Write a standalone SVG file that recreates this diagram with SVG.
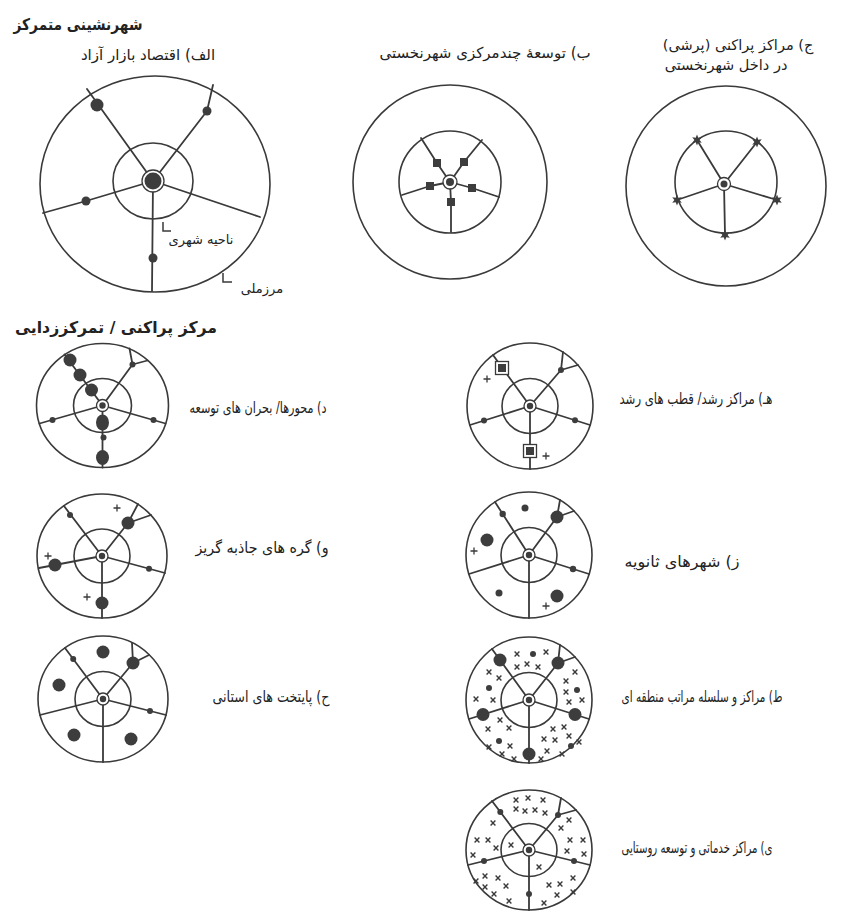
<svg xmlns="http://www.w3.org/2000/svg" width="861" height="914" viewBox="0 0 861 914">
<style>
.o{fill:none;stroke:#3a3a3a;stroke-width:1.6}
.s{fill:none;stroke:#3a3a3a;stroke-width:1.8;stroke-linejoin:round;stroke-linecap:round}
.d{fill:#3d3d3d}
.r{fill:#fff;stroke:#3a3a3a;stroke-width:1.3}
.t{font-family:"DejaVu Sans",sans-serif;fill:#222;direction:rtl;text-anchor:middle;font-size:14px}
.l{font-size:15.5px}
.h{font-weight:bold;font-size:16px}
.ld{fill:none;stroke:#3a3a3a;stroke-width:1.5}
</style>
<defs>
<polygon id="star" class="d" points="0,-5.5 1.3,-2.25 4.76,-2.75 2.6,0 4.76,2.75 1.3,2.25 0,5.5 -1.3,2.25 -4.76,2.75 -2.6,0 -4.76,-2.75 -1.3,-2.25"/>
<path id="xm" d="M-2.4,-2.4L2.4,2.4M2.4,-2.4L-2.4,2.4" stroke="#3a3a3a" stroke-width="1.4" fill="none"/>
<path id="pl" d="M-3.5,0H3.5M0,-3.5V3.5" stroke="#3a3a3a" stroke-width="1.3" fill="none"/>
<g id="sq2"><rect x="-6.5" y="-6.5" width="13" height="13" class="r"/><rect x="-4" y="-4" width="8" height="8" class="d"/></g>
<g id="ring"><circle r="6" class="r"/><circle r="3.2" class="d"/></g>
</defs>
<rect width="861" height="914" fill="#fff"/>

<g id="titles">
<text class="t h" x="78" y="30" textLength="129" lengthAdjust="spacingAndGlyphs">شهرنشینی متمرکز</text>
<text class="t h" x="116" y="333" textLength="202" lengthAdjust="spacingAndGlyphs">مرکز پراکنی / تمرکززدایی</text>
</g>

<g id="p-alef">
<text class="t" x="148" y="60" style="font-size:15px">الف) اقتصاد بازار آزاد</text>
<ellipse cx="155" cy="184" rx="115" ry="108" class="o"/>
<ellipse cx="153" cy="181" rx="40" ry="38" class="o"/>
<path class="s" d="M153,181L87,89M153,181L207,111L213,85M153,181L86,201L43,213M153,181L260,217M153,181L152,291"/>
<circle cx="97" cy="105" r="6.5" class="d"/>
<circle cx="207" cy="111" r="4.5" class="d"/>
<circle cx="86" cy="201" r="4.5" class="d"/>
<circle cx="153" cy="258" r="4.5" class="d"/>
<circle cx="153" cy="181" r="11" class="r"/>
<circle cx="153" cy="181" r="8.5" class="d"/>
<path class="ld" d="M163,222V231H171M223,273V282H232"/>
<text class="t" x="201" y="244" style="font-size:13px">ناحیه شهری</text>
<text class="t" x="262" y="293" style="font-size:13px">مرزملی</text>
</g>

<g id="p-be">
<text class="t" x="485" y="58" style="font-size:15px">ب) توسعهٔ چندمرکزی شهرنخستی</text>
<circle cx="450" cy="182" r="97" class="o"/>
<circle cx="450" cy="182" r="51" class="o"/>
<path class="s" d="M450,182L437,163L421,138M450,182L464,162L482,140M450,182L430,186L402,195M450,182L472,188L499,197M450,182L451,202L451,232"/>
<rect x="433" y="159" width="8" height="8" class="d"/>
<rect x="460" y="158" width="8" height="8" class="d"/>
<rect x="426" y="182" width="8" height="8" class="d"/>
<rect x="468" y="184" width="8" height="8" class="d"/>
<rect x="447" y="198" width="8" height="8" class="d"/>
<circle cx="450" cy="182" r="7" class="r"/>
<circle cx="450" cy="182" r="4" class="d"/>
</g>

<g id="p-jim">
<text class="t" x="738" y="50" style="font-size:14.5px">ج) مراکز پراکنی (پرشی)</text>
<text class="t" x="726" y="70" style="font-size:14.5px">در داخل شهرنخستی</text>
<circle cx="726" cy="186" r="100" class="o"/>
<circle cx="726" cy="182" r="51" class="o"/>
<path class="s" d="M724,184L697,140M724,184L757,142M724,184L677,200M724,184L777,200M724,184L725,235"/>
<use href="#star" x="697" y="140"/>
<use href="#star" x="757" y="142"/>
<use href="#star" x="677" y="200"/>
<use href="#star" x="777" y="200"/>
<use href="#star" x="725" y="235"/>
<circle cx="724" cy="184" r="6.5" class="r"/>
<circle cx="724" cy="184" r="3.5" class="d"/>
</g>

<g id="p-dal">
<text class="t l" x="258" y="413" textLength="137" lengthAdjust="spacingAndGlyphs">د) محورها/ بحران های توسعه</text>
<g transform="translate(102.5,405.5)">
<ellipse rx="66" ry="62" class="o"/>
<ellipse rx="29" ry="27" class="o"/>
<path class="s" d="M0,0L-38,-51M0,0L30,-41L27,-57M30,-41L45,-45M0,0L-63,18M0,0L63,18M0,0L0,62"/>
<circle cx="-32.5" cy="-45.5" r="6.5" class="d"/>
<circle cx="-22.5" cy="-30.5" r="6.5" class="d"/>
<circle cx="-11" cy="-15.5" r="6.5" class="d"/>
<circle cx="30" cy="-41" r="3" class="d"/>
<circle cx="-50" cy="14.5" r="3" class="d"/>
<circle cx="51" cy="14.5" r="3" class="d"/>
<circle cx="1" cy="32" r="3" class="d"/>
<ellipse cx="0" cy="17" rx="6.5" ry="8" class="d"/>
<ellipse cx="0" cy="52" rx="6.5" ry="7.5" class="d"/>
<use href="#ring"/>
</g>
</g>

<g id="p-he">
<text class="t l" x="696" y="404" textLength="153" lengthAdjust="spacingAndGlyphs">هـ) مراکز رشد/ قطب های رشد</text>
<g transform="translate(530,406)">
<circle r="63" class="o"/>
<ellipse rx="28" ry="27.5" class="o"/>
<path class="s" d="M0,0L-37,-51M0,0L31,-36L33,-54M31,-36L48,-41M0,0L-60,19M0,0L60,19M0,0L0,63"/>
<circle cx="31" cy="-36" r="3" class="d"/>
<circle cx="-46" cy="14.6" r="3" class="d"/>
<circle cx="45" cy="14.3" r="3" class="d"/>
<use href="#sq2" x="-28" y="-38"/>
<use href="#sq2" x="0" y="45"/>
<use href="#pl" x="-43" y="-27"/>
<use href="#pl" x="16" y="50"/>
<use href="#ring"/>
</g>
</g>

<g id="p-vav">
<text class="t l" x="262" y="553" textLength="133" lengthAdjust="spacingAndGlyphs">و) گره های جاذبه گریز</text>
<g transform="translate(102,556)">
<ellipse rx="65" ry="62" class="o"/>
<ellipse rx="28" ry="27" class="o"/>
<path class="s" d="M0,0L-38,-50M0,0L26,-33L36,-52M26,-33L49,-41M0,0L-63,12M0,0L63,17M0,0L0,62"/>
<circle cx="-32" cy="-41" r="3" class="d"/>
<circle cx="26" cy="-33" r="6.5" class="d"/>
<circle cx="-47" cy="9" r="6.5" class="d"/>
<circle cx="47" cy="12.7" r="3" class="d"/>
<circle cx="0" cy="47" r="6.5" class="d"/>
<use href="#pl" x="15" y="-48"/>
<use href="#pl" x="-54" y="0"/>
<use href="#pl" x="-15" y="41"/>
<use href="#ring"/>
</g>
</g>

<g id="p-ze">
<text class="t l" x="682" y="567" textLength="115" lengthAdjust="spacingAndGlyphs">ز) شهرهای ثانویه</text>
<g transform="translate(529,555)">
<circle r="63" class="o"/>
<ellipse rx="28" ry="27.5" class="o"/>
<path class="s" d="M0,0L-34,-53M0,0L28,-38L31,-55M28,-38L45,-44M0,0L-60,19M0,0L60,19M0,0L0,63"/>
<circle cx="-26.3" cy="-41" r="3.2" class="d"/>
<circle cx="28" cy="-38" r="6.5" class="d"/>
<circle cx="44" cy="14" r="3.2" class="d"/>
<circle cx="-4" cy="-47" r="3.5" class="d"/>
<circle cx="-42" cy="-15" r="6.5" class="d"/>
<circle cx="-30" cy="38" r="3.5" class="d"/>
<circle cx="28" cy="41" r="6.5" class="d"/>
<use href="#pl" x="-55" y="-4"/>
<use href="#pl" x="17" y="51"/>
<use href="#ring"/>
</g>
</g>

<g id="p-he2">
<text class="t l" x="271" y="702" textLength="117" lengthAdjust="spacingAndGlyphs">ح) پایتخت های استانی</text>
<g transform="translate(103,699)">
<ellipse rx="65" ry="63" class="o"/>
<ellipse rx="28" ry="27.5" class="o"/>
<path class="s" d="M0,0L-38,-51M0,0L30,-36L29,-56M30,-36L46,-44M0,0L-63,16M0,0L63,16M0,0L0,63"/>
<circle cx="-29.8" cy="-40" r="3" class="d"/>
<circle cx="30" cy="-36" r="6.5" class="d"/>
<circle cx="47" cy="12" r="3" class="d"/>
<circle cx="0" cy="-47" r="6.5" class="d"/>
<circle cx="-44" cy="-14" r="6.5" class="d"/>
<circle cx="-29" cy="36" r="6.5" class="d"/>
<circle cx="28" cy="40" r="6.5" class="d"/>
<use href="#ring"/>
</g>
</g>

<g id="p-ta">
<text class="t l" x="702" y="702" textLength="161" lengthAdjust="spacingAndGlyphs">ط) مراکز و سلسله مراتب منطقه ای</text>
<g transform="translate(529,700)">
<circle r="63" class="o"/>
<ellipse rx="28" ry="27.5" class="o"/>
<path class="s" d="M0,0L-37,-51M0,0L29,-37L31,-55M29,-37L46,-43M0,0L-60,19M0,0L60,19M0,0L0,63"/>
<circle cx="-29" cy="-40" r="6.5" class="d"/>
<circle cx="29" cy="-37" r="6.5" class="d"/>
<circle cx="-46" cy="14.5" r="6.5" class="d"/>
<circle cx="46" cy="14.5" r="6.5" class="d"/>
<circle cx="0" cy="54" r="6.5" class="d"/>
<circle cx="4" cy="-46" r="3" class="d"/>
<circle cx="-40" cy="-12" r="3" class="d"/>
<circle cx="48" cy="-10" r="3" class="d"/>
<circle cx="-30" cy="41" r="3" class="d"/>
<circle cx="42" cy="46" r="3" class="d"/>
<use href="#xm" x="-12" y="-46"/><use href="#xm" x="17" y="-48"/>
<use href="#xm" x="-12" y="-33"/><use href="#xm" x="-2" y="-36"/><use href="#xm" x="9" y="-33"/>
<use href="#xm" x="-40" y="-28"/><use href="#xm" x="-30" y="-22"/>
<use href="#xm" x="-53" y="-1"/><use href="#xm" x="-36" y="0"/>
<use href="#xm" x="46" y="-28"/><use href="#xm" x="37" y="-19"/><use href="#xm" x="37" y="-8"/>
<use href="#xm" x="53" y="0"/><use href="#xm" x="40" y="2"/>
<use href="#xm" x="-29" y="20"/><use href="#xm" x="-41" y="29"/><use href="#xm" x="-20" y="28"/>
<use href="#xm" x="-19" y="46"/><use href="#xm" x="-40" y="47"/><use href="#xm" x="-27" y="54"/>
<use href="#xm" x="24" y="29"/><use href="#xm" x="35" y="27"/><use href="#xm" x="15" y="39"/>
<use href="#xm" x="26" y="40"/><use href="#xm" x="40" y="36"/><use href="#xm" x="50" y="42"/>
<use href="#xm" x="18" y="51"/><use href="#xm" x="33" y="54"/>
<use href="#xm" x="-15" y="59"/><use href="#xm" x="12" y="59"/>
<use href="#ring"/>
</g>
</g>

<g id="p-ye">
<text class="t l" x="697" y="853" textLength="151" lengthAdjust="spacingAndGlyphs">ی) مراکز خدماتی و توسعه روستایی</text>
<g transform="translate(529,850)">
<ellipse rx="63" ry="60" class="o"/>
<ellipse rx="28" ry="26.5" class="o"/>
<path class="s" d="M0,0L-37,-49M0,0L29,-35L32,-52M29,-35L47,-40M0,0L-61,15M0,0L61,15M0,0L0,60"/>
<circle cx="-28.7" cy="-38" r="3" class="d"/>
<circle cx="29" cy="-35" r="3" class="d"/>
<circle cx="-45" cy="11" r="3" class="d"/>
<circle cx="45" cy="11" r="3" class="d"/>
<circle cx="0" cy="44" r="3" class="d"/>
<use href="#xm" x="-13" y="-50"/><use href="#xm" x="-1" y="-52"/><use href="#xm" x="14" y="-50"/>
<use href="#xm" x="-13" y="-41"/><use href="#xm" x="-4" y="-39"/><use href="#xm" x="6" y="-40"/><use href="#xm" x="16" y="-37"/>
<use href="#xm" x="-36" y="-27"/><use href="#xm" x="-52" y="-10"/><use href="#xm" x="-41" y="-10"/>
<use href="#xm" x="-33" y="-2"/><use href="#xm" x="-56" y="5"/><use href="#xm" x="-18" y="-5"/>
<use href="#xm" x="40" y="-30"/><use href="#xm" x="32" y="-22"/><use href="#xm" x="41" y="-10"/>
<use href="#xm" x="54" y="-10"/><use href="#xm" x="38" y="1"/><use href="#xm" x="55" y="4"/>
<use href="#xm" x="-44" y="26"/><use href="#xm" x="-53" y="31"/><use href="#xm" x="-31" y="28"/>
<use href="#xm" x="-44" y="37"/><use href="#xm" x="-23" y="36"/><use href="#xm" x="-35" y="44"/><use href="#xm" x="-20" y="51"/>
<use href="#xm" x="10" y="17"/>
<use href="#xm" x="20" y="35"/><use href="#xm" x="31" y="34"/><use href="#xm" x="44" y="28"/>
<use href="#xm" x="28" y="45"/><use href="#xm" x="44" y="42"/><use href="#xm" x="15" y="53"/>
<use href="#ring"/>
</g>
</g>
</svg>
